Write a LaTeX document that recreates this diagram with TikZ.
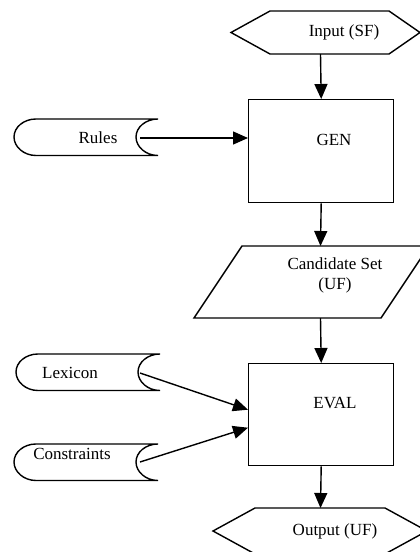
\documentclass[tikz,border=0pt]{standalone}
\usepackage{fontspec}
\setmainfont{Liberation Serif}
\usetikzlibrary{arrows.meta,calc}
\begin{document}
\begin{tikzpicture}[x=1pt,y=-1pt,
  line width=1.4pt,
  lbl/.style={inner sep=0pt,font=\fontsize{17}{20}\selectfont},
  procbox/.style={draw,rectangle,minimum width=145pt,minimum height=103pt,inner sep=0pt,anchor=north west},
  arr/.style={-{Triangle[length=15pt,width=13pt]}},
  stored/.pic={
    \draw (144,0) -- (22,0) .. controls (9.9,0) and (0,8.1) .. (0,18)
      .. controls (0,27.9) and (9.9,36.5) .. (22,36.5) -- (144,36.5)
      .. controls (131.9,36.5) and (122,27.9) .. (122,18)
      .. controls (122,8.1) and (131.9,0) .. (144,0) -- cycle;
  }]
\useasboundingbox (0,0) rectangle (420,552);
\clip (0,0) rectangle (420,552);

% Input hexagon
\draw (231,32.5) -- (270,11) -- (389,11) -- (420,32.5) -- (389,54) -- (270,54) -- cycle;
\node[lbl] (input) at (344,32) {Input (SF)};
\coordinate (inputb) at (320.5,54);

% GEN
\node[procbox] (gen) at (248,99) {};
\node[lbl] (gentxt) at (334,140) {GEN};

% Rules
\pic at (14,119) {stored};
\node[lbl] (rules) at (98,138) {Rules};
\coordinate (rulesout) at (140,138);

% Candidate set parallelogram
\draw (242,246) -- (429,246) -- (381,318) -- (194,318) -- cycle;
\node[lbl,align=center] (cand) at (335,275) {Candidate Set\\(UF)};
\coordinate (candt) at (320.5,246);
\coordinate (candb) at (320.5,318);

% EVAL
\node[procbox,minimum height=102pt] (eval) at (248,363) {};
\node[lbl] (evaltxt) at (335,403) {EVAL};

% Lexicon
\pic at (16,354) {stored};
\node[lbl] (lex) at (70,373) {Lexicon};
\coordinate (lexout) at (140,373);

% Constraints
\pic at (14,444) {stored};
\node[lbl] (cons) at (72,454) {Constraints};
\coordinate (consout) at (140,462);

% Output hexagon
\draw (213,531) -- (255,508) -- (385,508) -- (427,531) -- (385,554) -- (255,554) -- cycle;
\node[lbl] (output) at (335,531) {Output (UF)};
\coordinate (outt) at (320.5,508);

% connectors
\draw[arr] (inputb) -- (gen.north);
\draw[arr] (rulesout) -- (rulesout -| gen.west);
\draw[arr] (gen.south) -- (candt);
\draw[arr] (candb) -- (eval.north);
\draw[arr] (lexout) -- ($(eval.west)+(0,-5)$);
\draw[arr] (consout) -- ($(eval.west)+(0,13)$);
\draw[arr] (eval.south) -- (outt);
\end{tikzpicture}
\end{document}
